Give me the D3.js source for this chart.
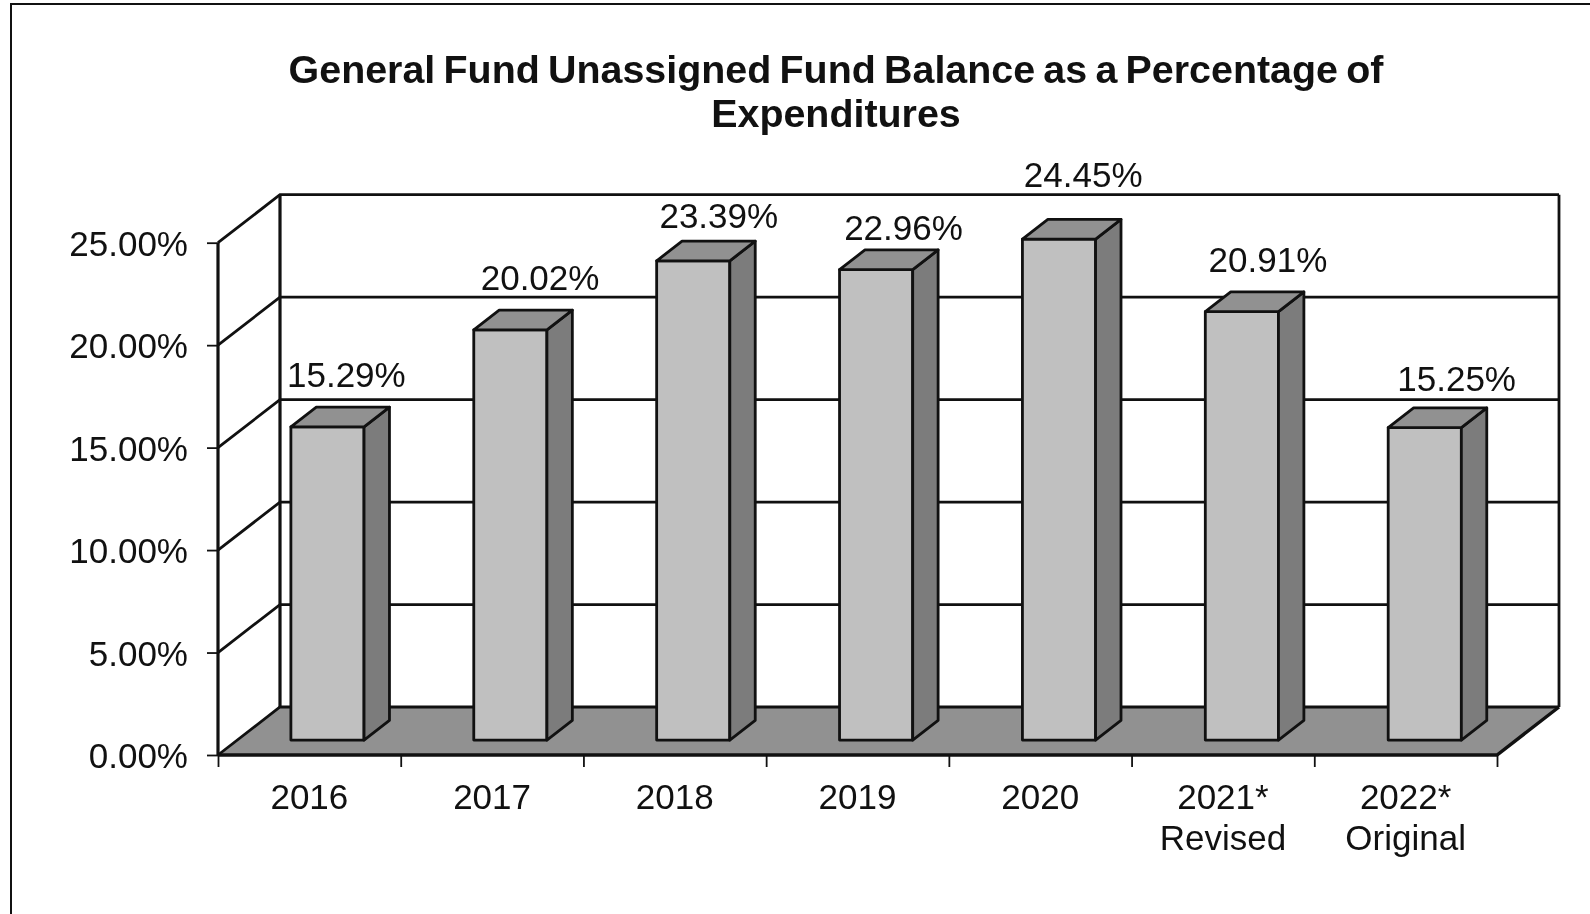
<!DOCTYPE html>
<html>
<head>
<meta charset="utf-8">
<script src="https://cdn.jsdelivr.net/npm/d3@7"></script>
<style>
  html, body { margin: 0; padding: 0; background: #fff; }
  svg { display: block; filter: blur(0.6px); }
  text { font-family: "Liberation Sans", Arial, sans-serif; fill: #111; }
</style>
</head>
<body>
<svg id="chart" width="1590" height="914"></svg>
<script>
const titleLines = ["General Fund Unassigned Fund Balance as a Percentage of", "Expenditures"];
const categories = ["2016", "2017", "2018", "2019", "2020", "2021*", "2022*"];
const subLabels = ["", "", "", "", "", "Revised", "Original"];
const values = [15.29, 20.02, 23.39, 22.96, 24.45, 20.91, 15.25];
const yTicks = [0, 5, 10, 15, 20, 25];

// the data labels were hand placed in the original, so each one gets a nudge
const labelNudgeX = [37, 48, 44, 46, 43, 45, 51];
const labelNudgeY = [-20, -20, -13, -10, -32, -20, -17];

const width = 1590, height = 914;
const margin = { left: 218, right: 1497, top: 242.7, bottom: 755 };
const depth = { x: 62, y: -48 };      // floor depth
const barFront = 0.31, barBack = 0.72; // where a bar sits inside that depth
const fontSize = 35;

const svg = d3.select("#chart");
const y = d3.scaleLinear().domain([0, 25]).range([margin.bottom, margin.top]);
const x = d3.scaleBand().domain(categories).range([margin.left - 1.2, margin.right]).paddingInner(0.6).paddingOuter(0.3);
const band = d3.scaleBand().domain(categories).range([margin.left, margin.right]);
const xEdge = d3.scaleLinear().domain([0, categories.length]).range([margin.left, margin.right]);

const line = d3.line();
const poly = pts => line(pts) + "Z";
const shift = (p, f) => [p[0] + depth.x * f, p[1] + depth.y * f];

// page frame
svg.append("path")
  .attr("d", line([[11, height], [11, 4], [width, 4]]))
  .attr("fill", "none").attr("stroke", "#111").attr("stroke-width", 2);

// title
svg.append("g").selectAll("text").data(titleLines).join("text")
  .attr("x", 836)
  .attr("y", (d, i) => 82.5 + i * 44)
  .attr("text-anchor", "middle")
  .attr("font-size", 39.4)
  .attr("font-weight", "bold")
  .attr("word-spacing", -2.7)
  .text(d => d);

// floor
const x0 = margin.left, x1 = margin.right, y0 = y(0);
svg.append("path")
  .attr("d", poly([[x0, y0], [x1, y0], shift([x1, y0], 1), shift([x0, y0], 1)]))
  .attr("fill", "#919191");

// walls and gridlines
const grid = svg.append("g").attr("fill", "none").attr("stroke", "#111").attr("stroke-width", 2.8);
yTicks.forEach(t => {
  const p = [x0, y(t)], q = shift(p, 1), r = [q[0] + (x1 - x0), q[1]];
  grid.append("path").attr("d", line([p, q, r]));
});
grid.append("path").attr("d", line([[x0, y(25)], [x0, y0]])).attr("stroke-width", 3.2);
grid.append("path").attr("d", line([shift([x0, y(25)], 1), shift([x0, y0], 1)])).attr("stroke-width", 3.2);
grid.append("path").attr("d", line([shift([x1, y(25)], 1), shift([x1, y0], 1)]));
grid.append("path").attr("d", line([[x0, y0], [x1, y0], shift([x1, y0], 1)])).attr("stroke-width", 3.4);

// axes
const yAxis = svg.append("g")
  .attr("transform", `translate(${x0},0)`)
  .call(d3.axisLeft(y).tickValues(yTicks).tickSize(11).tickPadding(19).tickFormat(d => d3.format(".2f")(d) + "%"));
yAxis.select(".domain").remove();
yAxis.selectAll("line").attr("stroke", "#111").attr("stroke-width", 1.8);
yAxis.selectAll("text").attr("font-size", fontSize).attr("dy", "0.36em").attr("fill", "#111");

const xTicks = svg.append("g")
  .attr("transform", `translate(0,${y0})`)
  .call(d3.axisBottom(xEdge).tickValues(d3.range(categories.length + 1)).tickSize(12).tickFormat(""));
xTicks.select(".domain").remove();
xTicks.selectAll("line").attr("stroke", "#111").attr("stroke-width", 1.8);

const xAxis = svg.append("g")
  .attr("transform", `translate(0,${y0})`)
  .call(d3.axisBottom(band).tickSize(0).tickPadding(0));
xAxis.select(".domain").remove();
xAxis.selectAll("text")
  .attr("font-size", fontSize).attr("fill", "#111")
  .attr("y", 53.5).attr("dy", 0);
svg.append("g").selectAll("text").data(subLabels).join("text")
  .attr("x", (d, i) => band(categories[i]) + band.bandwidth() / 2)
  .attr("y", y0 + 94.5)
  .attr("text-anchor", "middle")
  .attr("font-size", fontSize)
  .text(d => d);

// bars, front corner points shifted back along the floor depth
const bars = svg.append("g").selectAll("g").data(values).join("g")
  .attr("stroke", "#111").attr("stroke-width", 2.8).attr("stroke-linejoin", "round");

bars.each(function (v, i) {
  const g = d3.select(this);
  const l = x(categories[i]), r = l + x.bandwidth();
  const bl = shift([l, y(0)], barFront), br = shift([r, y(0)], barFront);
  const tl = shift([l, y(v)], barFront), tr = shift([r, y(v)], barFront);
  const back = p => shift(p, barBack - barFront);
  g.append("path").attr("d", poly([tl, tr, br, bl])).attr("fill", "#c0c0c0");
  g.append("path").attr("d", poly([tr, back(tr), back(br), br])).attr("fill", "#7c7c7c");
  g.append("path").attr("d", poly([tl, back(tl), back(tr), tr])).attr("fill", "#919191");
});

// data labels
svg.append("g").selectAll("text").data(values).join("text")
  .attr("x", (d, i) => band(categories[i]) + band.bandwidth() / 2 + labelNudgeX[i])
  .attr("y", (d, i) => shift([0, y(d)], barBack)[1] + labelNudgeY[i])
  .attr("text-anchor", "middle")
  .attr("font-size", fontSize)
  .text(d => d3.format(".2f")(d) + "%");
</script>
</body>
</html>
